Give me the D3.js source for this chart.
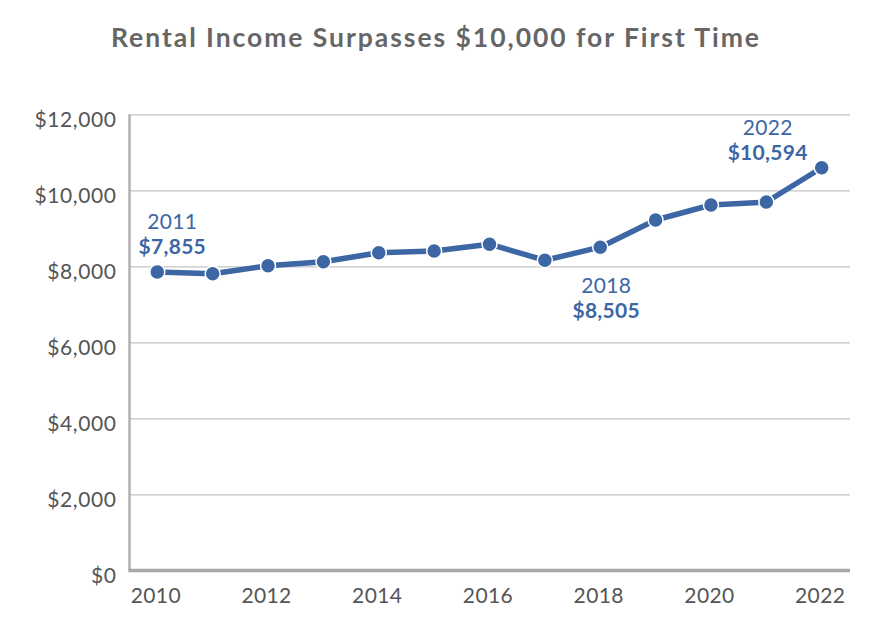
<!DOCTYPE html>
<html>
<head>
<meta charset="utf-8">
<script src="https://cdn.jsdelivr.net/npm/d3@7"></script>
<style>
  html, body { margin: 0; padding: 0; background: #fff; }
  svg { display: block; font-family: Lato, "Open Sans", sans-serif; }
</style>
</head>
<body>
<svg id="chart" width="891" height="634"></svg>
<script>
const years = [2010, 2011, 2012, 2013, 2014, 2015, 2016, 2017, 2018, 2019, 2020, 2021, 2022];
const income = [7855, 7807, 8017, 8123, 8359, 8404, 8583, 8160, 8505, 9220, 9614, 9693, 10594];
const yTicks = [0, 2000, 4000, 6000, 8000, 10000, 12000];
const xTicks = [2010, 2012, 2014, 2016, 2018, 2020, 2022];
const annotations = [
  { year: 2010, label: "2011", value: "$7,855", pos: "above" },
  { year: 2018, label: "2018", value: "$8,505", pos: "below" },
  { year: 2022, label: "2022", value: "$10,594", pos: "above" }
];
const title = "Rental Income Surpasses $10,000 for First Time";

const svg = d3.select("#chart");
const blue = "#3d66a4";
const font = "Lato, 'Open Sans', sans-serif";

const x = d3.scaleLinear().domain([2010, 2022]).range([157.3, 821.7]);
const y = d3.scaleLinear().domain([0, 12000]).range([570.5, 114.3]);
const plotLeft = 129.5, plotRight = 850;

const t = svg.append("text")
  .attr("x", 436).attr("y", 47)
  .attr("text-anchor", "middle")
  .attr("font-size", 26.5).attr("font-weight", 700)
  .attr("fill", "#666")
  .text(title);
const tw = t.node().getComputedTextLength();
const targetW = 648;
if (tw < targetW) t.attr("letter-spacing", ((targetW - tw) / (title.length - 1)).toFixed(2));

// grid lines
const yAxis = d3.axisLeft(y).tickValues(yTicks).tickSize(-(plotRight - plotLeft))
  .tickFormat(d => "$" + d3.format(",")(d)).tickPadding(12);
const gy = svg.append("g").attr("transform", `translate(${plotLeft},0)`).call(yAxis)
  .attr("font-family", font);
gy.select(".domain").remove();
gy.selectAll(".tick line").attr("stroke", "#c4c4c4").attr("stroke-width", 1.3);
gy.selectAll(".tick text").attr("font-size", 21).attr("fill", "#555")
  .attr("letter-spacing", 0.6)
  .attr("dy", "0.62em").attr("y", -1).attr("x", -13);

// y axis line
svg.append("line").attr("x1", plotLeft).attr("x2", plotLeft)
  .attr("y1", y(12000)).attr("y2", y(0) + 1)
  .attr("stroke", "#b0b0b0").attr("stroke-width", 2.5);

// x axis
const xAxis = d3.axisBottom(x).tickValues(xTicks).tickSize(0).tickFormat(d3.format("d")).tickPadding(18);
const gx = svg.append("g").attr("transform", `translate(0,${y(0)})`).call(xAxis)
  .attr("font-family", font);
gx.select(".domain").remove();
gx.selectAll(".tick text").attr("font-size", 21).attr("fill", "#555")
  .attr("letter-spacing", 0.4).attr("x", -2);
svg.append("line").attr("x1", plotLeft - 1).attr("x2", plotRight)
  .attr("y1", y(0)).attr("y2", y(0))
  .attr("stroke", "#a8a8ab").attr("stroke-width", 3.5);

const data = years.map((yr, i) => ({ year: yr, value: income[i] }));

svg.append("path").datum(data)
  .attr("fill", "none").attr("stroke", blue).attr("stroke-width", 5.5)
  .attr("stroke-linejoin", "round")
  .attr("d", d3.line().x(d => x(d.year)).y(d => y(d.value)));

svg.selectAll("circle.pt").data(data).enter().append("circle")
  .attr("class", "pt")
  .attr("cx", d => x(d.year)).attr("cy", d => y(d.value))
  .attr("r", 7.5).attr("fill", blue).attr("stroke", "#fff").attr("stroke-width", 1.5);

annotations.forEach(a => {
  const i = years.indexOf(a.year);
  const px = x(a.year), py = y(income[i]);
  let cx, b1, b2;
  if (a.year === 2010) { cx = px + 15; b1 = py - 43; b2 = py - 18; }
  else if (a.pos === "below") { cx = px + 6; b1 = py + 46; b2 = py + 71; }
  else { cx = px - 54; b1 = py - 33; b2 = py - 8; }
  svg.append("text").attr("x", cx).attr("y", b1).attr("text-anchor", "middle")
    .attr("font-size", 21).attr("fill", blue).attr("letter-spacing", 0.3).text(a.label);
  svg.append("text").attr("x", cx).attr("y", b2).attr("text-anchor", "middle")
    .attr("font-size", 21).attr("font-weight", 700).attr("fill", blue).attr("letter-spacing", 0.3).text(a.value);
});
</script>
</body>
</html>
